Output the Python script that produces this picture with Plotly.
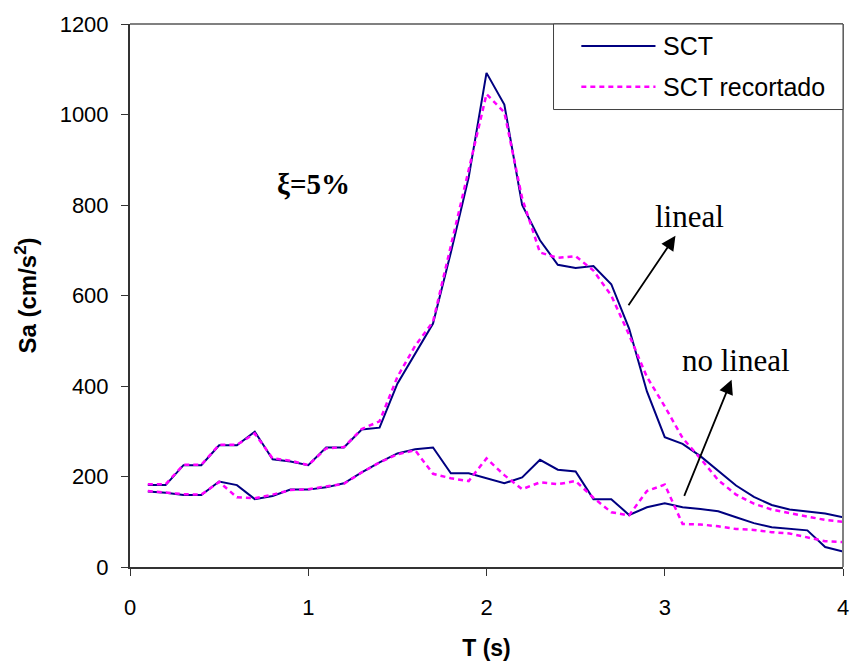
import plotly.graph_objects as go

T = [round(0.1 * i, 1) for i in range(1, 41)]

sct_lineal = [181, 181, 225, 225, 269, 269, 299, 238, 233, 225,
              264, 264, 304, 308, 405, 470, 538, 695, 861, 1092,
              1022, 800, 722, 668, 661, 665, 625, 527, 388, 287,
              272, 245, 212, 180, 155, 137, 127, 122, 118, 110]
sct_nolineal = [167, 164, 159, 159, 189, 181, 150, 157, 171, 171,
                176, 185, 209, 231, 251, 260, 264, 207, 207, 196,
                185, 198, 237, 215, 211, 150, 150, 115, 132, 141,
                132, 128, 123, 110, 97, 88, 84, 81, 44, 34]
rec_lineal = [183, 183, 226, 226, 270, 270, 295, 240, 235, 225,
              262, 265, 305, 322, 420, 489, 542, 710, 880, 1045,
              1005, 815, 695, 683, 687, 655, 600, 513, 420, 355,
              285, 240, 192, 160, 140, 127, 119, 111, 104, 100]
rec_nolineal = [168, 164, 161, 160, 188, 154, 152, 160, 170, 172,
                178, 184, 209, 231, 249, 258, 206, 196, 190, 240,
                203, 172, 187, 183, 190, 153, 121, 114, 168, 182,
                95, 94, 90, 84, 82, 77, 74, 66, 57, 55]

series_names = ["SCT", "SCT recortado"]
x_ticks = [0, 1, 2, 3, 4]
y_ticks = [0, 200, 400, 600, 800, 1000, 1200]

NAVY = "#000080"
MAG = "#FF00FF"
SERIF = "Liberation Serif, Times New Roman"
SANS = "Liberation Sans, Arial"

fig = go.Figure()
fig.add_trace(go.Scatter(x=T, y=sct_lineal, mode="lines", name=series_names[0],
                         line=dict(color=NAVY, width=2), showlegend=False))
fig.add_trace(go.Scatter(x=T, y=sct_nolineal, mode="lines", name=series_names[0],
                         line=dict(color=NAVY, width=2), showlegend=False))
fig.add_trace(go.Scatter(x=T, y=rec_lineal, mode="lines", name=series_names[1],
                         line=dict(color=MAG, width=2.5, dash="5px,4px"), showlegend=False))
fig.add_trace(go.Scatter(x=T, y=rec_nolineal, mode="lines", name=series_names[1],
                         line=dict(color=MAG, width=2.5, dash="5px,4px"), showlegend=False))

shapes = []
shapes.append(dict(type="line", xref="paper", yref="paper", x0=0, x1=1, y0=1, y1=1,
                   line=dict(color="#808080", width=2)))
shapes.append(dict(type="line", xref="paper", yref="paper", x0=1, x1=1, y0=0, y1=1,
                   line=dict(color="#808080", width=2)))
shapes.append(dict(type="rect", xref="paper", yref="paper", x0=0.594, x1=1.0, y0=0.8425, y1=1.0,
                   line=dict(color="#404040", width=1), fillcolor="white", layer="above"))
shapes.append(dict(type="line", xref="paper", yref="paper", x0=0.633, x1=0.737, y0=0.9597, y1=0.9597,
                   line=dict(color=NAVY, width=2), layer="above"))
shapes.append(dict(type="line", xref="paper", yref="paper", x0=0.633, x1=0.737, y0=0.8846, y1=0.8846,
                   line=dict(color=MAG, width=2.5, dash="5px,4px"), layer="above"))

annotations = []
for name, yy in zip(series_names, [0.9597, 0.8846]):
    annotations.append(dict(text=name, xref="paper", yref="paper", x=0.745, y=yy,
                            xanchor="left", yanchor="middle", showarrow=False,
                            font=dict(family=SANS, size=25, color="black")))
annotations.append(dict(text="<b>ξ=5%</b>", x=1.03, y=846, xref="x", yref="y", showarrow=False,
                        font=dict(family=SERIF, size=29, color="black")))
annotations.append(dict(text="lineal", x=3.138, y=774, xref="x", yref="y", showarrow=False,
                        font=dict(family=SERIF, size=31, color="black")))
annotations.append(dict(text="no lineal", x=3.399, y=457, xref="x", yref="y", showarrow=False,
                        font=dict(family=SERIF, size=31, color="black")))
annotations.append(dict(text="", x=3.06, y=732, ax=2.791, ay=575, xref="x", yref="y",
                        axref="x", ayref="y", showarrow=True, arrowhead=2, arrowsize=1.6,
                        arrowwidth=1.8, arrowcolor="black"))
annotations.append(dict(text="", x=3.375, y=414, ax=3.106, ay=154, xref="x", yref="y",
                        axref="x", ayref="y", showarrow=True, arrowhead=2, arrowsize=1.6,
                        arrowwidth=1.8, arrowcolor="black"))

fig.update_layout(
    width=858, height=666,
    margin=dict(l=130, r=9, t=24, b=96),
    paper_bgcolor="white", plot_bgcolor="white",
    shapes=shapes, annotations=annotations,
    font=dict(family=SANS, size=22, color="black"),
)
fig.update_xaxes(range=[0, 4], tickvals=x_ticks, ticktext=[str(v) for v in x_ticks],
                 showgrid=False, zeroline=False, showline=True, linecolor="#333333", linewidth=2,
                 ticks="outside", ticklen=7, tickwidth=1, tickcolor="#333333",
                 ticklabelstandoff=13,
                 title=dict(text="<b>T (s)</b>", font=dict(size=23), standoff=20))
fig.update_yaxes(range=[0, 1200], tickvals=y_ticks, ticktext=[str(v) for v in y_ticks],
                 showgrid=False, zeroline=False, showline=True, linecolor="#333333", linewidth=2,
                 ticks="outside", ticklen=7, tickwidth=1, tickcolor="#333333",
                 ticklabelstandoff=8,
                 title=dict(text="<b>Sa (cm/s<sup>2</sup>)</b>", font=dict(size=24), standoff=16))

fig.write_html("out.html")
